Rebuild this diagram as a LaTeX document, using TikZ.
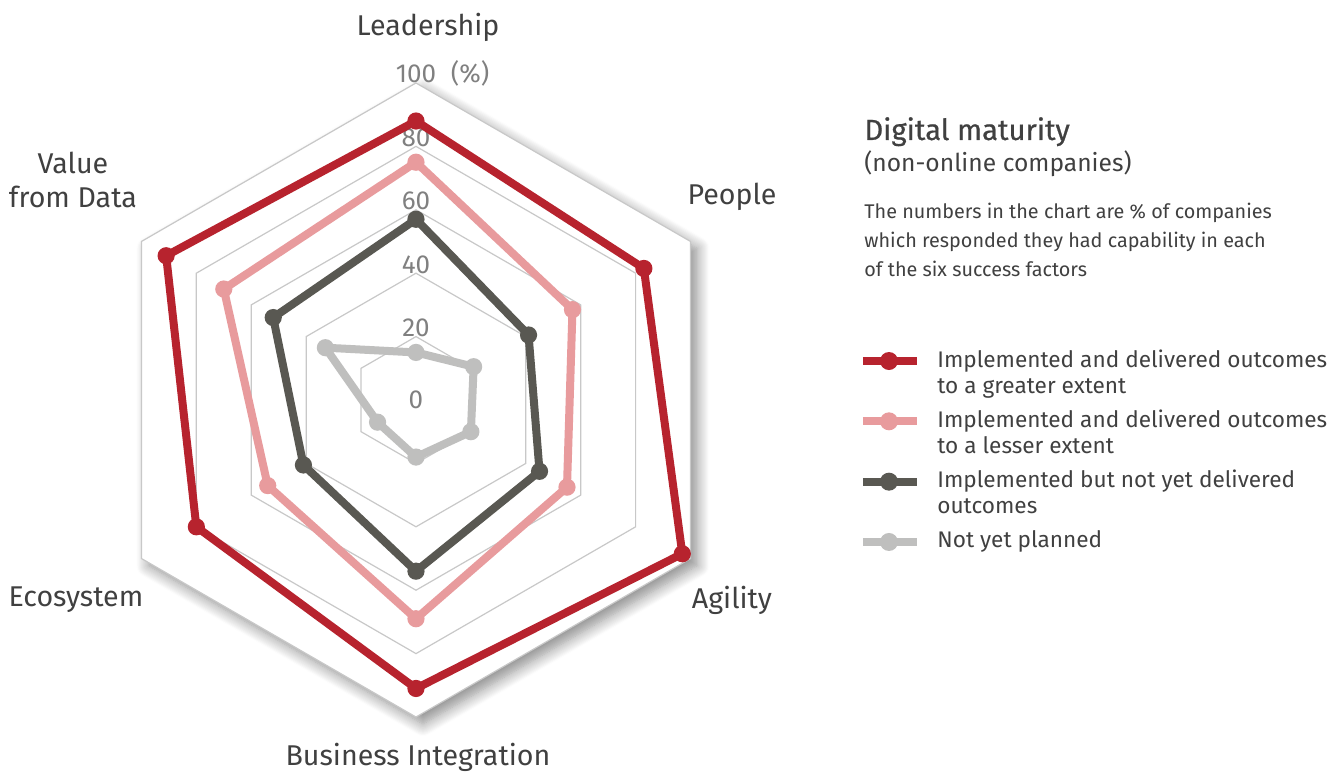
\documentclass[tikz,border=0pt]{standalone}
\usepackage{fontspec}
\setmainfont{Fira Sans}
\newfontfamily\titlefont[FakeBold=0.6]{Fira Sans}
\usepackage{tkz-euclide}
\usetikzlibrary{positioning,shadows.blur}

\definecolor{greatred}{RGB}{183,35,46}
\definecolor{lessred}{RGB}{232,155,157}
\definecolor{notyetgray}{RGB}{89,88,82}
\definecolor{plannedgray}{RGB}{191,191,190}
\definecolor{gridgray}{RGB}{200,200,200}
\definecolor{textgray}{RGB}{64,64,64}
\definecolor{numgray}{RGB}{128,128,128}

\begin{document}
\begin{tikzpicture}[
    gridline/.style={draw=gridgray, line width=0.6pt},
    serie/.style={draw=#1, line width=4pt, line join=round},
    axislabel/.style={text=textgray, align=center, inner sep=0pt,
      font=\fontsize{14.3}{17}\selectfont},
    numlabel/.style={text=numgray, inner sep=0pt, font=\fontsize{13}{15}\selectfont},
    legtext/.style={text=textgray, align=left, anchor=north west, inner sep=0pt,
      font=\fontsize{11.3}{13}\selectfont}]
    \useasboundingbox (-7.310,-6.572) rectangle (16.290,7.029);
    \def\R{5.571}
    \tkzDefPoint(0,0){O}
    \tkzDefShiftPoint[O](90:\R){Le}
    \tkzDefShiftPoint[O](30:\R){Pe}
    \tkzDefShiftPoint[O](-30:\R){Ag}
    \tkzDefShiftPoint[O](-90:\R){Bi}
    \tkzDefShiftPoint[O](-150:\R){Ec}
    \tkzDefShiftPoint[O](150:\R){Va}
    \tkzDrawPolygon[gridline, fill=white, blur shadow={shadow xshift=3.5pt,
      shadow yshift=-3.5pt, shadow blur radius=6pt, shadow blur steps=12,
      shadow opacity=45}](Le,Pe,Ag,Bi,Ec,Va)
    \foreach \k in {1,...,4}
      \draw[gridline] (90:\k*\R/5) -- (30:\k*\R/5) -- (-30:\k*\R/5)
        -- (-90:\k*\R/5) -- (-150:\k*\R/5) -- (150:\k*\R/5) -- cycle;
    \foreach \k/\n in {1/20,2/40,3/60,4/80}
      \node[numlabel, anchor=base] (n\n) at (90:\k*\R/5) {\n};
    \node[numlabel, anchor=base] (n100) at (Le) {100};
    \node[numlabel, base right=7pt of n100] (pct) {(\%)};
    \node[numlabel] (n0) at (O) {0};
    \foreach \v [count=\i] in {15,21,20,18,14,33}
      \coordinate (np\i) at (150-60*\i:\v*\R/100);
    \foreach \v [count=\i] in {57,41,45,54,41,52}
      \coordinate (nd\i) at (150-60*\i:\v*\R/100);
    \foreach \v [count=\i] in {75,57,55,69,54,70}
      \coordinate (ls\i) at (150-60*\i:\v*\R/100);
    \foreach \v [count=\i] in {88,83,97,91,80,91}
      \coordinate (gr\i) at (150-60*\i:\v*\R/100);
    \tkzDrawPolygon[serie=plannedgray](np1,np2,np3,np4,np5,np6)
    \tkzDrawPolygon[serie=notyetgray](nd1,nd2,nd3,nd4,nd5,nd6)
    \tkzDrawPolygon[serie=lessred](ls1,ls2,ls3,ls4,ls5,ls6)
    \tkzDrawPolygon[serie=greatred](gr1,gr2,gr3,gr4,gr5,gr6)
    \foreach \i in {1,...,6}{
      \fill[plannedgray] (np\i) circle (4.3pt);
      \fill[notyetgray] (nd\i) circle (4.3pt);
      \fill[lessred] (ls\i) circle (4.3pt);
      \fill[greatred] (gr\i) circle (4.3pt);
    }
    \node[axislabel] (lead) at (0.211,6.555) {Leadership};
    \node[axislabel] (peop) at (5.553,3.567) {People};
    \node[axislabel] (agil) at (5.553,-3.515) {Agility};
    \node[axislabel] (busi) at (0.035,-6.274) {Business Integration};
    \node[axislabel] (ecos) at (-5.975,-3.515) {Ecosystem};
    \node[axislabel] (valu) at (-6.028,3.866) {Value\\from Data};
    \node[anchor=base west, inner sep=0pt, text=textgray,
      font=\titlefont\fontsize{14.6}{17}\selectfont] (title) at (7.873,4.569) {Digital maturity};
    \node[anchor=base west, inner sep=0pt, text=textgray,
      font=\fontsize{12.3}{15}\selectfont] (sub) at (7.873,4.007) {(non-online companies)};
    \node[legtext, font=\fontsize{9.9}{14.5}\selectfont] (note) at (7.873,3.47)
      {The numbers in the chart are \% of companies\\which responded they had capability in each\\of the six success factors};
    \foreach \col/\txt [count=\i] in {greatred/{Implemented and delivered outcomes\\to a greater extent},
        lessred/{Implemented and delivered outcomes\\to a lesser extent},
        notyetgray/{Implemented but not yet delivered\\outcomes}, plannedgray/{Not yet planned}}{
      \coordinate (k\i) at (7.855,{0.685-1.06*(\i-1)});
      \draw[\col, line width=4pt] (k\i) -- ++(0.949,0);
      \fill[\col] ([xshift=0.457cm]k\i) circle (4.5pt);
      \node[legtext] (t\i) at ([xshift=1.3cm, yshift=0.211cm]k\i) {\txt};
    }
\end{tikzpicture}
\end{document}
